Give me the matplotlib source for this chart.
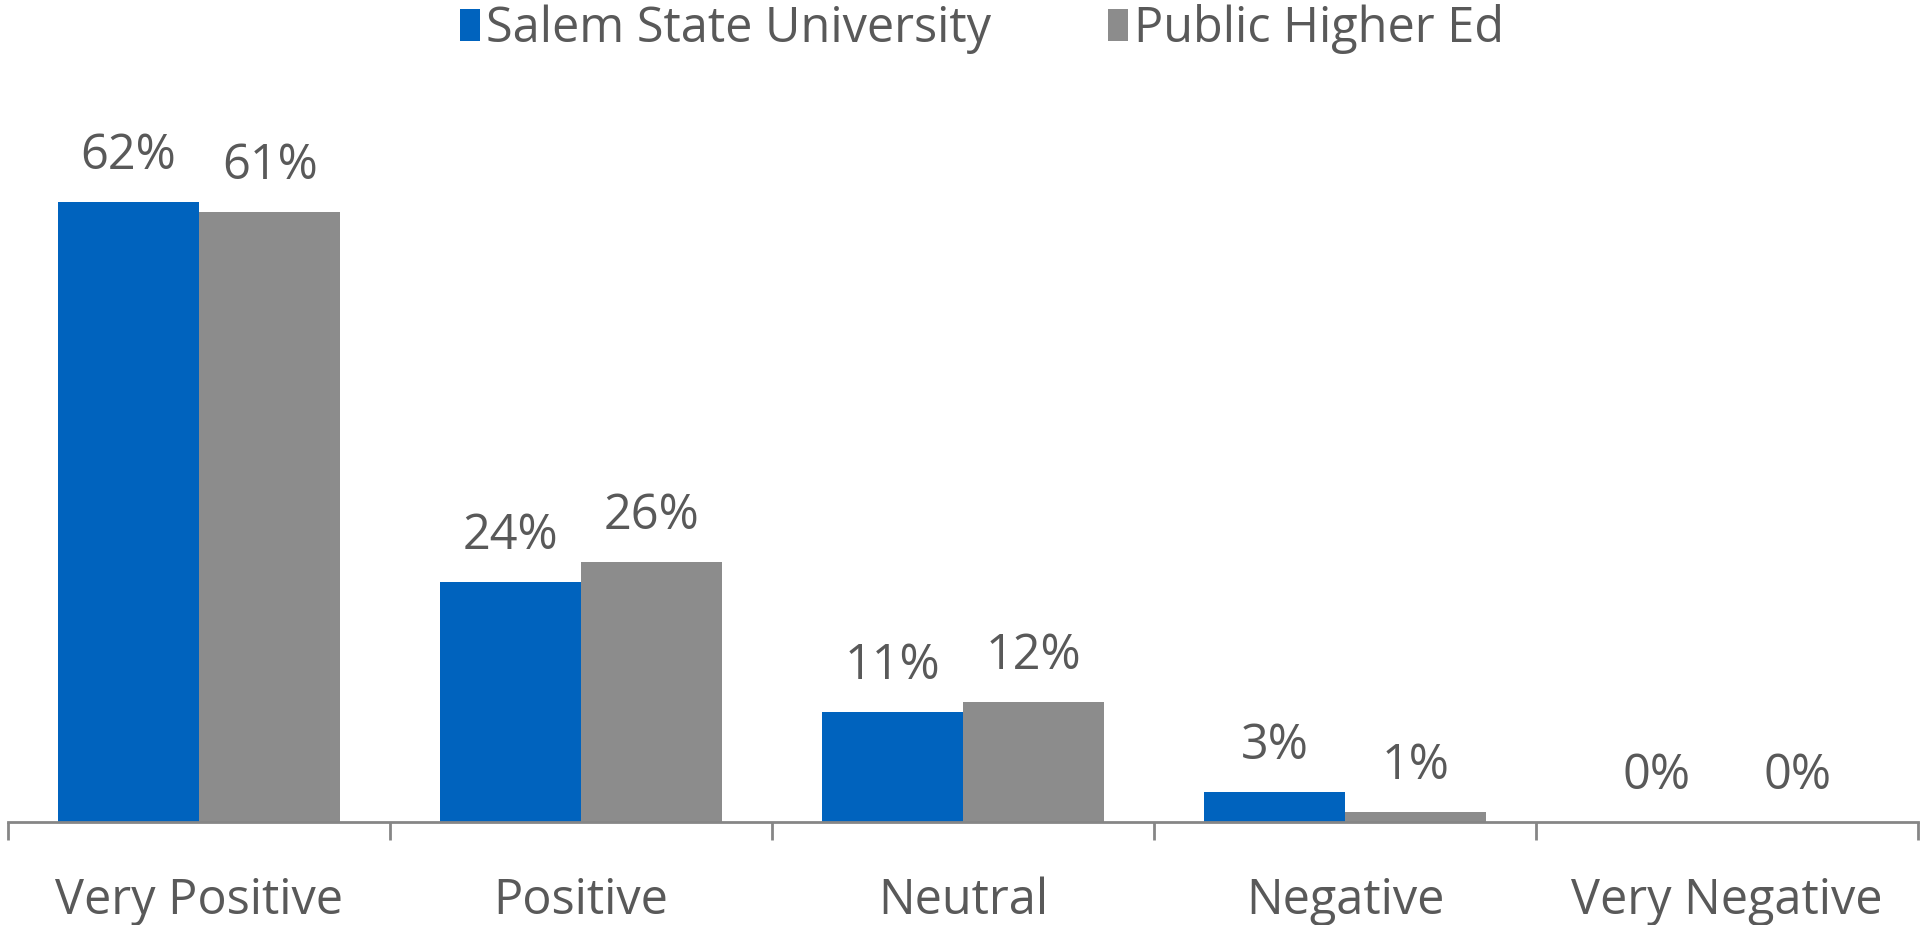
import matplotlib
matplotlib.use("Agg")
import matplotlib.pyplot as plt
import numpy as np

categories = ["Very Positive", "Positive", "Neutral", "Negative", "Very Negative"]
series_names = ["Salem State University", "Public Higher Ed"]
salem = [62, 24, 11, 3, 0]
public = [61, 26, 12, 1, 0]

blue = "#0063be"
grey = "#8c8c8c"
text_col = "#595959"

plt.rcParams['font.family'] = ['Open Sans', 'DejaVu Sans']

fig = plt.figure(figsize=(19.24, 9.25), dpi=100)
ax = fig.add_axes([8 / 1924, 103 / 925, 1910 / 1924, 700 / 925])

x = np.arange(len(categories))
w = 0.37
b1 = ax.bar(x - w / 2, salem, w, color=blue, label=series_names[0])
b2 = ax.bar(x + w / 2, public, w, color=grey, label=series_names[1])

for bars, vals in ((b1, salem), (b2, public)):
    for rect, v in zip(bars, vals):
        ax.annotate(f"{v}%", (rect.get_x() + rect.get_width() / 2, rect.get_height()),
                    xytext=(0, 15), textcoords="offset points",
                    ha="center", va="bottom", fontsize=35, color=text_col)

ax.set_xlim(-0.5, len(categories) - 0.5)
ax.set_ylim(0, 70)
ax.set_yticks([])
for s in ("top", "right", "left"):
    ax.spines[s].set_visible(False)
ax.spines["bottom"].set_color("#868686")
ax.spines["bottom"].set_linewidth(2)

ax.set_xticks(x)
ax.set_xticklabels(categories, fontsize=35, color=text_col)
ax.tick_params(axis="x", which="major", length=0, pad=39)
ax.set_xticks(np.arange(-0.5, len(categories)), minor=True)
ax.tick_params(axis="x", which="minor", length=13, width=2, color="#868686")

fig.legend(loc="center", bbox_to_anchor=(0.5 + 20 / 1924, 1 - 29 / 925), ncol=2, frameon=False,
           fontsize=35, labelcolor=text_col, handlelength=0.42, handleheight=0.65,
           handletextpad=0.12, columnspacing=2.4)

fig.savefig("out.png", dpi=100)
plt.close(fig)
